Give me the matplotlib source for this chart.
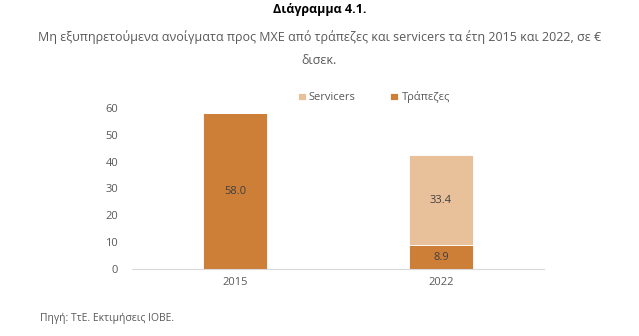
import matplotlib
matplotlib.use("Agg")

import matplotlib.pyplot as plt

# Data
years = ["2015", "2022"]
banks = [58.0, 8.9]
servicers = [0.0, 33.4]

title = "Διάγραμμα 4.1."
subtitle = "Μη εξυπηρετούμενα ανοίγματα προς ΜΧΕ από τράπεζες και servicers τα έτη 2015 και 2022, σε €\nδισεκ."
source = "Πηγή: ΤτΕ. Εκτιμήσεις ΙΟΒΕ."

plt.rcParams['font.family'] = ['Open Sans', 'DejaVu Sans']

bank_color = "#CD7F37"
serv_color = "#E8C09A"
text_color = "#595959"

fig = plt.figure(figsize=(6.39, 3.36), dpi=100)
ax = fig.add_axes([0.2066, 0.1994, 0.6447, 0.4792])

x = range(len(years))
bw = 0.31
ax.bar(x, banks, width=bw, color=bank_color, edgecolor="white", linewidth=0.6, label="Τράπεζες", zorder=2)
ax.bar(x, servicers, width=bw, bottom=banks, color=serv_color, edgecolor="white", linewidth=0.6, label="Servicers", zorder=2)

# Value labels
for i in x:
    ax.text(i, banks[i] / 2, f"{banks[i]:.1f}", ha="center", va="center", fontsize=8, color="#404040")
    if servicers[i] > 0:
        ax.text(i, banks[i] + servicers[i] / 2, f"{servicers[i]:.1f}", ha="center", va="center", fontsize=8, color="#404040")

ax.set_xlim(-0.5, 1.5)
ax.set_ylim(0, 60)
ax.set_yticks(range(0, 61, 10))
ax.set_xticks(list(x))
ax.set_xticklabels(years)
ax.tick_params(axis="both", length=0, labelsize=8, colors=text_color)
ax.tick_params(axis="y", pad=10)
ax.tick_params(axis="x", pad=6)
for s in ["top", "right", "left"]:
    ax.spines[s].set_visible(False)
ax.spines["bottom"].set_color("#D9D9D9")

handles, labels = ax.get_legend_handles_labels()
leg = fig.legend(handles[::-1], labels[::-1], loc="center", bbox_to_anchor=(0.585, 0.71), ncol=2,
                 frameon=False, fontsize=8, handlelength=0.7, handleheight=0.7,
                 columnspacing=3.1, handletextpad=0.3)
for t in leg.get_texts():
    t.set_color(text_color)

fig.text(0.5, 0.99, title, ha="center", va="top", fontsize=9, fontweight="bold", color="black")
fig.text(0.5, 0.91, subtitle, ha="center", va="top", fontsize=9, color=text_color, linespacing=1.95)
fig.text(0.063, 0.052, source, ha="left", va="center", fontsize=7.5, color=text_color)

fig.savefig("out.png", dpi=100)
